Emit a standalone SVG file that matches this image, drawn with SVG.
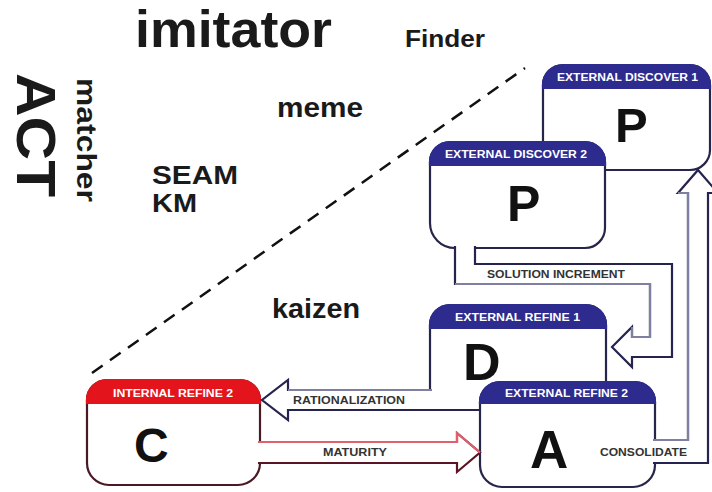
<svg xmlns="http://www.w3.org/2000/svg" width="712" height="492" viewBox="0 0 712 492">
<style>
 .box{fill:#fff;stroke:#26264a;stroke-width:2.2}
 .boxr{fill:#fff;stroke:#4a1a24;stroke-width:2.2}
 .hdr{fill:#2d2b8e;stroke:#2d2b8e;stroke-width:2.2}
 .hdrr{fill:#e3141c;stroke:#e3141c;stroke-width:2.2}
 .ht{font-family:"Liberation Sans",Arial,sans-serif;font-weight:bold;font-size:10.5px;fill:#fff}
 .big{font-family:"Liberation Sans",Arial,sans-serif;font-weight:bold;fill:#111}
 .lbl{font-family:"Liberation Sans",Arial,sans-serif;font-weight:bold;font-size:10px;fill:#333}
 .w{font-family:"Liberation Sans",Arial,sans-serif;font-weight:bold;fill:#1a1a1a}
 .arr{fill:#fff;stroke:#24244e;stroke-width:2.2}
 .arrr{fill:#fff;stroke:#5a1424;stroke-width:2.2}
 .lite{fill:none;stroke:#7f7fa2;stroke-width:2.2}
 .pink{fill:none;stroke:#e0606e;stroke-width:2.2}
 .dash{fill:none;stroke:#111;stroke-width:2.5;stroke-dasharray:13 9}
</style>
<rect width="712" height="492" fill="#fff"/>

<g id="words">
 <text class="w" x="135" y="47" font-size="52" textLength="197" lengthAdjust="spacingAndGlyphs">imitator</text>
 <text class="w" x="405" y="47" font-size="23" textLength="80" lengthAdjust="spacingAndGlyphs">Finder</text>
 <text class="w" x="277" y="117" font-size="28" textLength="86" lengthAdjust="spacingAndGlyphs">meme</text>
 <text class="w" x="152" y="184" font-size="25" textLength="86" lengthAdjust="spacingAndGlyphs">SEAM</text>
 <text class="w" x="152" y="212" font-size="25" textLength="45" lengthAdjust="spacingAndGlyphs">KM</text>
 <text class="w" x="272" y="318" font-size="28" textLength="88" lengthAdjust="spacingAndGlyphs">kaizen</text>
 <text class="w" transform="translate(17,73) rotate(90)" font-size="56" textLength="124" lengthAdjust="spacingAndGlyphs">ACT</text>
 <text class="w" transform="translate(77,78) rotate(90)" font-size="27" textLength="124" lengthAdjust="spacingAndGlyphs">matcher</text>
</g>

<line class="dash" x1="92" y1="373" x2="525" y2="68"/>

<g id="node-p1">
 <path class="box" d="M543,85 A20,20 0 0 1 563,65 H690 A20,20 0 0 1 710,85 V150 A20,20 0 0 1 690,170 H563 A20,20 0 0 1 543,150 Z"/>
 <path class="hdr" d="M543,88 V85 A20,20 0 0 1 563,65 H690 A20,20 0 0 1 710,85 V88 Z"/>
 <text class="ht" x="557" y="81" textLength="141" lengthAdjust="spacingAndGlyphs">EXTERNAL DISCOVER 1</text>
 <text class="big" x="615" y="142" font-size="49">P</text>
</g>

<g id="node-p2">
 <path class="box" d="M430,162 A20,20 0 0 1 450,142 H585 A20,20 0 0 1 605,162 V228 A20,20 0 0 1 585,248 H455 A25,25 0 0 1 430,223 Z"/>
 <path class="hdr" d="M430,165 V162 A20,20 0 0 1 450,142 H585 A20,20 0 0 1 605,162 V165 Z"/>
 <text class="ht" x="445" y="158" textLength="142" lengthAdjust="spacingAndGlyphs">EXTERNAL DISCOVER 2</text>
 <text class="big" x="507" y="221" font-size="50">P</text>
</g>

<g id="node-d">
 <path class="box" d="M430,410 V325 A20,20 0 0 1 450,305 H586 A20,20 0 0 1 606,325 V410 Z"/>
 <path class="hdr" d="M430,328 V325 A20,20 0 0 1 450,305 H586 A20,20 0 0 1 606,325 V328 Z"/>
 <text class="ht" x="455" y="321" textLength="125" lengthAdjust="spacingAndGlyphs">EXTERNAL REFINE 1</text>
 <text class="big" x="463" y="380" font-size="52">D</text>
</g>

<g id="node-a">
 <path class="box" d="M480,402 A20,20 0 0 1 500,382 H635 A20,20 0 0 1 655,402 V465 A22,22 0 0 1 633,487 H502 A22,22 0 0 1 480,465 Z"/>
 <path class="hdr" d="M480,403 V402 A20,20 0 0 1 500,382 H635 A20,20 0 0 1 655,402 V403 Z"/>
 <text class="ht" x="505" y="397" textLength="123" lengthAdjust="spacingAndGlyphs">EXTERNAL REFINE 2</text>
 <text class="big" x="530" y="468" font-size="53">A</text>
</g>

<g id="node-c">
 <path class="boxr" d="M87,400 A20,20 0 0 1 107,380 H240 A20,20 0 0 1 260,400 V463 A22,22 0 0 1 238,485 H109 A22,22 0 0 1 87,463 Z"/>
 <path class="hdrr" d="M87,403 V400 A20,20 0 0 1 107,380 H240 A20,20 0 0 1 260,400 V403 Z"/>
 <text class="ht" x="113" y="397" textLength="120" lengthAdjust="spacingAndGlyphs">INTERNAL REFINE 2</text>
 <text class="big" x="134" y="462" font-size="48">C</text>
</g>

<g id="connectors">
 <g id="solution-increment">
  <path class="arr" d="M455,246 V284 H650 V337 H632 V327 L612,347 L632,367 V357 H672 V264 H475 V246"/>
  <path class="lite" d="M455,284 H650 V337 H632 V327"/>
  <text class="lbl" x="487" y="278" textLength="138" lengthAdjust="spacingAndGlyphs">SOLUTION INCREMENT</text>
 </g>
 <g id="consolidate">
  <path class="arr" d="M653,440 H688 V193 H678 L698,170 L718,193 H708 V463 H653"/>
  <path class="lite" d="M653,440 H688 V193 H678"/>
  <text class="lbl" x="600" y="456" textLength="87" lengthAdjust="spacingAndGlyphs">CONSOLIDATE</text>
 </g>
 <g id="rationalization">
  <path class="arr" d="M432,390 H288 V380 L262,400 L288,420 V410 H479"/>
  <path class="lite" d="M432,390 H288"/>
  <text class="lbl" x="293" y="404" textLength="112" lengthAdjust="spacingAndGlyphs">RATIONALIZATION</text>
 </g>
 <g id="maturity">
  <path class="arrr" d="M258,442 H457 V433 L480,452.5 L457,472 V463 H258"/>
  <path class="pink" d="M258,442 H457 V433 L480,452.5"/>
  <text class="lbl" x="323" y="456" textLength="64" lengthAdjust="spacingAndGlyphs">MATURITY</text>
 </g>
</g>
</svg>
